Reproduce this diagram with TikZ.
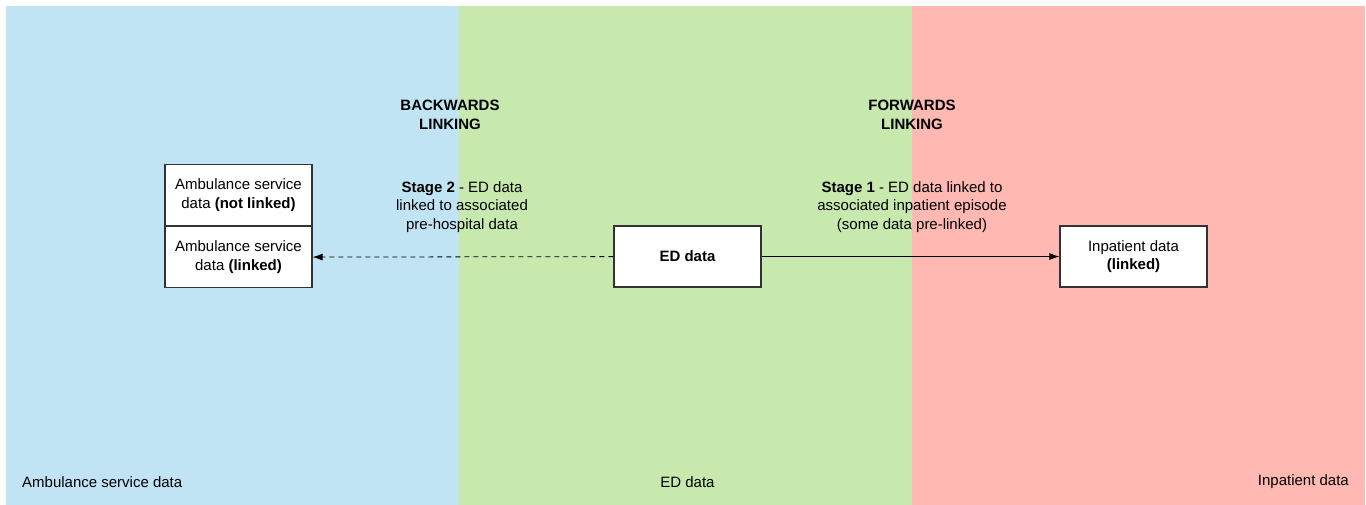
\documentclass[tikz,border=0pt]{standalone}
\usepackage{fontspec}
\setmainfont{Liberation Sans}
\usetikzlibrary{arrows.meta,positioning}
\definecolor{ambblue}{RGB}{193,228,245}
\definecolor{edgreen}{RGB}{199,233,173}
\definecolor{inpred}{RGB}{255,184,178}
\definecolor{boxline}{RGB}{51,51,51}
\tikzstyle{block} = [draw=boxline, fill=white, rectangle, line width=1.2pt, minimum height=61pt, minimum width=147pt, align=center, inner sep=0pt]
\tikzstyle{invis} = [draw=none, align=center, inner sep=0pt]
\tikzstyle{link} = [-{Latex[length=10pt,width=7pt]}, line width=0.8pt, color=black]

\begin{document}
\begin{tikzpicture}[x=1pt,y=-1pt,font=\fontsize{15}{18.5}\selectfont]

    \useasboundingbox (0,0) rectangle (1366,505);
    % background bands
    \fill [ambblue] (6,6) rectangle (459,505);
    \fill [edgreen] (459,6) rectangle (912,505);
    \fill [inpred] (912,6) rectangle (1365,505);

    \node [block, name = amb1] at (238.5,195) {Ambulance service\\data \textbf{(not linked)}};
    \node [block, below = 0pt of amb1, name = amb2] {Ambulance service\\data \textbf{(linked)}};
    \node [block, name = ed] at (687.5,256.5) {\textbf{ED data}};
    \node [block, name = inp] at (1133.5,256.5) {Inpatient data\\\textbf{(linked)}};

    \node [invis, name = back] at (450,115) {\textbf{BACKWARDS}\\\textbf{LINKING}};
    \node [invis, name = fwd] at (912,115) {\textbf{FORWARDS}\\\textbf{LINKING}};

    \node [invis, name = stage2] at (462,207) {\textbf{Stage 2} - ED data\\linked to associated\\pre-hospital data};
    \node [invis, name = stage1] at (912,207) {\textbf{Stage 1} - ED data linked to\\associated inpatient episode\\(some data pre-linked)};

    \node [invis, anchor = west, name = lamb] at (22,482) {Ambulance service data};
    \node [invis, name = led] at (687.5,482) {ED data};
    \node [invis, anchor = east, name = linp] at (1349,482) {Inpatient data};

    \draw [link, dashed, dash pattern=on 5pt off 4pt] (ed) -- (amb2);
    \draw [link] (ed) -- (inp);

\end{tikzpicture}
\end{document}
